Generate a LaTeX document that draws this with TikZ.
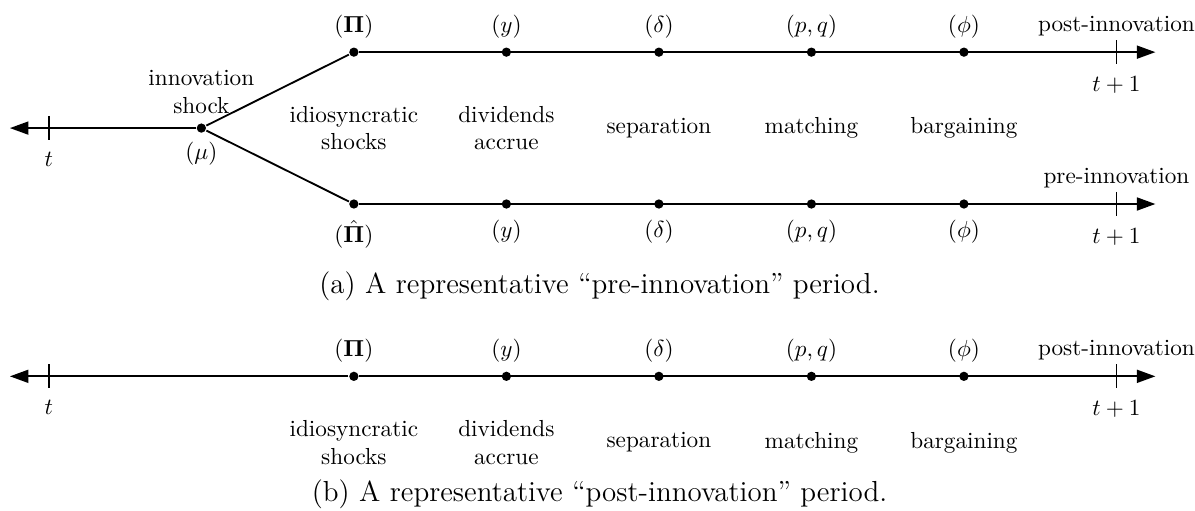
\RequirePackage{fix-cm}
\documentclass[tikz,border=0pt]{standalone}
\usetikzlibrary{arrows.meta,positioning}

\begin{document}
\begin{tikzpicture}[node distance=0pt,thick,
    evdot/.style={circle,fill,inner sep=0pt,minimum size=4pt},
    tickmark/.style={inner sep=0pt,minimum width=0pt,minimum height=0.34cm},
    evt/.style={align=center},
    captxt/.style={font=\fontsize{12.5}{15}\selectfont},
    endarrow/.style={-{Triangle[length=8pt,width=5.6pt]}}]
  \useasboundingbox (0,0) rectangle (18.10,7.73);
  % (a) pre-innovation period
  \coordinate (aL) at (0.15,5.79);
  \node[tickmark] (at) at (0.74,5.79) {};
  \node[evdot] (mu) at (3.05,5.79) {};
  \node[evdot] (uPi) at (5.36,6.94) {};
  \node[evdot] (uy) at (7.67,6.94) {};
  \node[evdot] (ud) at (9.98,6.94) {};
  \node[evdot] (upq) at (12.29,6.94) {};
  \node[evdot] (uphi) at (14.60,6.94) {};
  \node[tickmark] (ut) at (16.91,6.94) {};
  \coordinate (uR) at (17.50,6.94);
  \node[evdot] (lPi) at (5.36,4.64) {};
  \node[evdot] (ly) at (7.67,4.64) {};
  \node[evdot] (ld) at (9.98,4.64) {};
  \node[evdot] (lpq) at (12.29,4.64) {};
  \node[evdot] (lphi) at (14.60,4.64) {};
  \node[tickmark] (lt) at (16.91,4.64) {};
  \coordinate (lR) at (17.50,4.64);
  \draw[endarrow] (mu) -- (aL);
  \draw (mu) -- (uPi);
  \draw (mu) -- (lPi);
  \draw[endarrow] (uPi) -- (uR);
  \draw[endarrow] (lPi) -- (lR);
  \draw (at.north) -- (at.south);
  \draw (ut.north) -- (ut.south);
  \draw (lt.north) -- (lt.south);
  \node[below=1.5pt of at] (atL) {$t$};
  \node[evt,above=of mu] (shock) {innovation\\shock};
  \node[below=of mu] (muL) {$(\mu)$};
  \node[above=of uPi] (uPiL) {$(\mathbf{\Pi})$};
  \node[above=of uy] (uyL) {$(y)$};
  \node[above=of ud] (udL) {$(\delta)$};
  \node[above=of upq] (upqL) {$(p,q)$};
  \node[above=of uphi] (uphiL) {$(\phi)$};
  \node[above=-2pt of ut] (postL) {post-innovation};
  \node[below=1.5pt of ut] (utL) {$t+1$};
  \node[below=1pt of lPi] (lPiL) {$(\hat{\mathbf{\Pi}})$};
  \node[below=1pt of ly] (lyL) {$(y)$};
  \node[below=1pt of ld] (ldL) {$(\delta)$};
  \node[below=1pt of lpq] (lpqL) {$(p,q)$};
  \node[below=1pt of lphi] (lphiL) {$(\phi)$};
  \node[above=-2pt of lt] (preL) {pre-innovation};
  \node[below=1.5pt of lt] (ltL) {$t+1$};
  \node[evt] (aE1) at (5.36,5.79) {idiosyncratic\\shocks};
  \node[evt] (aE2) at (7.67,5.79) {dividends\\accrue};
  \node (aE3) at (9.98,5.79) {separation};
  \node (aE4) at (12.29,5.79) {matching};
  \node (aE5) at (14.60,5.79) {bargaining};
  \node[captxt] (capA) at (9.08,3.39) {(a) A representative ``pre-innovation'' period.};
  % (b) post-innovation period
  \coordinate (bL) at (0.15,2.03);
  \node[tickmark] (bt) at (0.74,2.03) {};
  \node[evdot] (bPi) at (5.36,2.03) {};
  \node[evdot] (by) at (7.67,2.03) {};
  \node[evdot] (bd) at (9.98,2.03) {};
  \node[evdot] (bpq) at (12.29,2.03) {};
  \node[evdot] (bphi) at (14.60,2.03) {};
  \node[tickmark] (bt1) at (16.91,2.03) {};
  \coordinate (bR) at (17.50,2.03);
  \draw[endarrow] (bPi) -- (bL);
  \draw[endarrow] (bPi) -- (bR);
  \draw (bt.north) -- (bt.south);
  \draw (bt1.north) -- (bt1.south);
  \node[below=1.5pt of bt] (btL) {$t$};
  \node[above=of bPi] (bPiL) {$(\mathbf{\Pi})$};
  \node[above=of by] (byL) {$(y)$};
  \node[above=of bd] (bdL) {$(\delta)$};
  \node[above=of bpq] (bpqL) {$(p,q)$};
  \node[above=of bphi] (bphiL) {$(\phi)$};
  \node[above=-2pt of bt1] (bpostL) {post-innovation};
  \node[below=1.5pt of bt1] (bt1L) {$t+1$};
  \node[evt] (bE1) at (5.36,1.03) {idiosyncratic\\shocks};
  \node[evt] (bE2) at (7.67,1.03) {dividends\\accrue};
  \node (bE3) at (9.98,1.03) {separation};
  \node (bE4) at (12.29,1.03) {matching};
  \node (bE5) at (14.60,1.03) {bargaining};
  \node[captxt] (capB) at (9.08,0.24) {(b) A representative ``post-innovation'' period.};
\end{tikzpicture}
\end{document}
